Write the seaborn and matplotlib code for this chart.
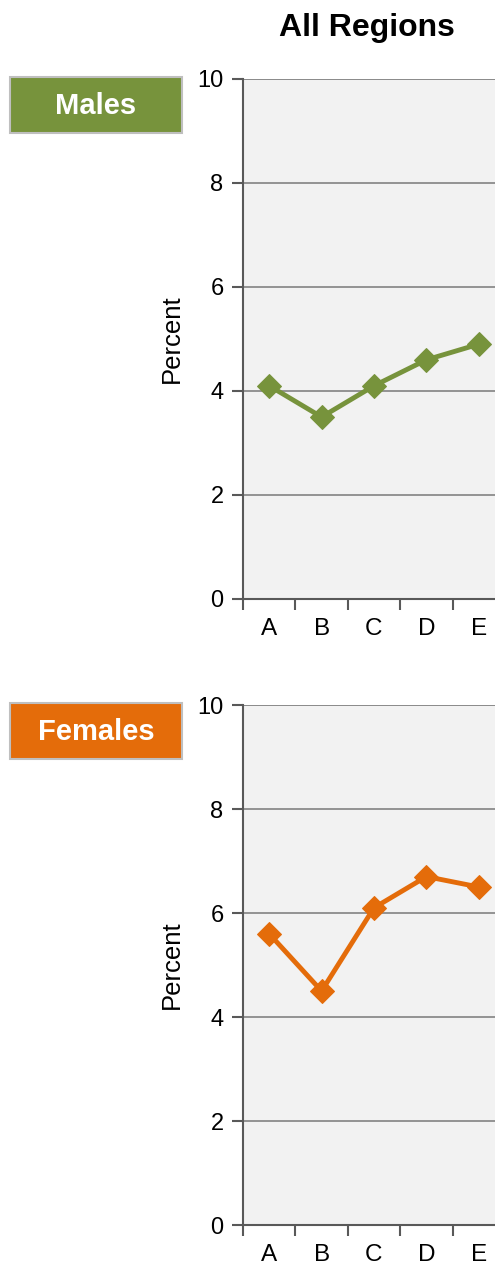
import matplotlib
matplotlib.use("Agg")
import matplotlib.pyplot as plt
from matplotlib.patches import Rectangle
from matplotlib.ticker import FixedLocator, NullFormatter
import seaborn as sns
import pandas as pd

categories = ["A", "B", "C", "D", "E"]
males = [4.1, 3.5, 4.1, 4.6, 4.9]
females = [5.6, 4.5, 6.1, 6.7, 6.5]
y_ticks = [0, 2, 4, 6, 8, 10]

sns.set_theme(style="white")
plt.rcParams["font.family"] = ["Liberation Sans", "DejaVu Sans"]

W, H = 495, 1267
fig = plt.figure(figsize=(W / 100, H / 100), dpi=100)

panels = [
    ("Males", males, "#77933C", 79, 599),
    ("Females", females, "#E46C0A", 705, 1225),
]

for name, values, color, top_px, bot_px in panels:
    left_px, right_px = 243, 505
    ax = fig.add_axes([left_px / W, 1 - bot_px / H,
                       (right_px - left_px) / W, (bot_px - top_px) / H])
    ax.set_facecolor("#F2F2F2")
    df = pd.DataFrame({"cat": categories, "val": values})
    sns.lineplot(data=df, x="cat", y="val", ax=ax, color=color,
                 linewidth=3.5, marker="D", markersize=12.5,
                 markeredgecolor=color, sort=False)
    ax.set_xlim(-0.5, len(categories) - 0.5)
    ax.set_ylim(0, 10)
    ax.set_yticks(y_ticks)
    ax.yaxis.grid(True, color="#8C8C8C", linewidth=1.3)
    ax.set_axisbelow(True)
    ax.axhline(10, color="#8C8C8C", linewidth=1.3, zorder=0.5)

    # Category labels on minor ticks, tick marks between categories
    ax.xaxis.set_major_locator(FixedLocator([i - 0.5 for i in range(len(categories) + 1)]))
    ax.xaxis.set_major_formatter(NullFormatter())
    ax.xaxis.set_minor_locator(FixedLocator(list(range(len(categories)))))
    ax.set_xticklabels(categories, minor=True)
    ax.tick_params(axis="x", which="major", direction="out", length=8,
                   width=1.5, color="#595959", bottom=True)
    ax.tick_params(axis="x", which="minor", length=0, labelsize=17.5,
                   labelcolor="black", pad=14, bottom=True)
    ax.tick_params(axis="y", direction="out", length=8, width=1.5,
                   color="#595959", labelsize=17, labelcolor="black", left=True, pad=6)

    for side in ("top", "right"):
        ax.spines[side].set_visible(False)
    for side in ("left", "bottom"):
        ax.spines[side].set_color("#595959")
        ax.spines[side].set_linewidth(1.5)

    ax.set_xlabel("")
    ax.set_ylabel("Percent", fontsize=18.5, color="black", labelpad=10)

    # Coloured label box at the top left of each panel
    box_top = top_px - 2
    fig.patches.append(Rectangle((10 / W, 1 - (box_top + 56) / H), 172 / W, 56 / H,
                                 transform=fig.transFigure, facecolor=color,
                                 edgecolor="#BFBFBF", linewidth=1.5))
    fig.text(96 / W, 1 - (box_top + 29) / H, name, ha="center", va="center",
             fontsize=21, fontweight="bold", color="white")

fig.text(367 / W, 1 - 28 / H, "All Regions", ha="center", va="center",
         fontsize=23, fontweight="bold", color="black")

fig.savefig("out.png", dpi=100)
